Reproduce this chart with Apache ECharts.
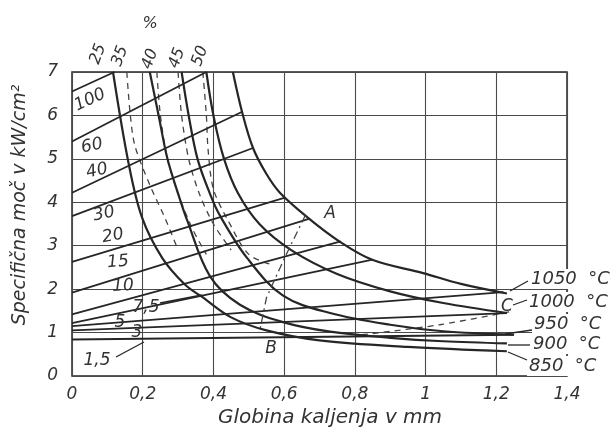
<!DOCTYPE html>
<html><head><meta charset="utf-8">
<script src="https://cdn.jsdelivr.net/npm/echarts/dist/echarts.min.js"></script>
<style>html,body{margin:0;background:#fff}#c{width:614px;height:435px}</style>
</head><body><div id="c"></div>
<script>
// axis ticks
const xTicks = [0, 0.2, 0.4, 0.6, 0.8, 1.0, 1.2, 1.4];
const yTicks = [0, 1, 2, 3, 4, 5, 6, 7];

// temperature curves (solid)
const tempLabels = ['1050 °C', '1000 °C', '950 °C', '900 °C', '850 °C'];
const t1050 = [[0.455,7],[0.481,6.08],[0.512,5.25],[0.55,4.65],[0.588,4.22],[0.665,3.66],[0.758,3.09],[0.851,2.67],[0.993,2.37],[1.1,2.12],[1.23,1.9]];
const t1000 = [[0.38,7],[0.40,6],[0.43,5],[0.47,4.2],[0.53,3.5],[0.62,2.9],[0.75,2.35],[0.9,1.95],[1.05,1.68],[1.23,1.45]];
const t950  = [[0.31,7],[0.33,6],[0.355,5],[0.39,4.2],[0.418,3.7],[0.495,2.72],[0.597,1.85],[0.73,1.45],[0.9,1.18],[1.05,1.03],[1.25,0.95]];
const t900  = [[0.22,7],[0.245,6],[0.27,5],[0.3,4.2],[0.325,3.6],[0.39,2.3],[0.475,1.64],[0.597,1.24],[0.73,1.02],[0.9,0.88],[1.05,0.8],[1.23,0.75]];
const t850  = [[0.116,7],[0.16,4.9],[0.198,3.65],[0.255,2.72],[0.32,2.1],[0.368,1.82],[0.45,1.35],[0.55,1.05],[0.7,0.82],[0.95,0.67],[1.23,0.57]];

// heating-time lines (solid)
const timeLabels = ['100','60','40','30','20','15','10','7,5','5','3','1,5'];
const s100 = [[0,6.55],[0.12,7]];
const s60  = [[0,5.4],[0.38,7]];
const s40  = [[0,4.22],[0.48,6.08]];
const s30  = [[0,3.68],[0.512,5.25]];
const s20  = [[0,2.63],[0.6,4.1]];
const s15  = [[0,1.92],[0.67,3.62]];
const s10  = [[0,1.42],[0.76,3.1]];
const s7_5 = [[0,1.22],[0.85,2.68]];
const s5   = [[0,1.15],[1.22,1.93]];
const s3   = [[0,1.05],[1.23,1.45]];
const s1_5 = [[0,0.84],[1.25,0.95]];

// percentage curves (dashed)
const pctLabels = ['25','35','40','45','50'];
const p35 = [[0.155,7],[0.165,6],[0.178,5.3],[0.22,4.4],[0.265,3.6],[0.3,2.9]];
const p40 = [[0.24,7],[0.25,6],[0.27,5],[0.3,4.2],[0.34,3.4],[0.38,2.8]];
const p45 = [[0.3,7],[0.31,6],[0.33,5],[0.36,4.2],[0.4,3.5],[0.45,2.9]];
const p50 = [[0.37,7],[0.38,6],[0.385,5.2],[0.4,4.3],[0.44,3.6],[0.5,2.8],[0.57,2.55]];
// boundary lines A-B and C
const lineAB = [[0.66,3.7],[0.6,2.7],[0.55,1.8],[0.53,1.0]];
const lineC  = [[0.82,0.95],[1.04,1.18],[1.25,1.5]];

const INK = '#262626';
const FONT = 'DejaVu Sans';
function solid(d, w){ return {type:'line', data:d, symbol:'none', smooth:0.35, lineStyle:{color:INK, width:w||2}, silent:true, z:3}; }
function straight(d){ return {type:'line', data:d, symbol:'none', lineStyle:{color:INK, width:1.8}, silent:true, z:3}; }
function dashed(d){ return {type:'line', data:d, symbol:'none', smooth:0.3, lineStyle:{color:'#444', width:1.3, type:[6,5]}, silent:true, z:2}; }

const series = [
  ...[t1050,t1000,t950,t900,t850].map(d=>solid(d,2.2)),
  ...[s100,s60,s40,s30,s20,s15,s10,s7_5,s5,s3,s1_5].map(straight),
  ...[p35,p40,p45,p50].map(dashed),
  {type:'line', data:lineAB, symbol:'none', lineStyle:{color:'#444', width:1.3, type:[8,4,2,4]}, silent:true},
  dashed(lineC)
];

function txt(x,y,s,opt){
  opt = opt||{};
  const st = {text:s, font:'italic '+(opt.size||16)+'px "'+FONT+'"', fill:'#333',
      textAlign:opt.align||'center', textVerticalAlign:'middle'};
  if (opt.bg) { st.backgroundColor = '#fff'; st.padding = [1,2]; }
  return {type:'text', x:x, y:y, rotation:(opt.rot||0)*Math.PI/180, style:st, z:10};
}
function seg(x1,y1,x2,y2){ return {type:'line', shape:{x1,y1,x2,y2}, style:{stroke:INK, lineWidth:1.3}, z:11}; }

const timePos = [[90,100,25],[92,146,12],[97,171,12],[104,214,12],[113,236,10],[118,262,5],[123,286,3],[146,308,0],[120,323,0],[137,333,0],[97,361,0]];
const pctPos = [[98,54],[120,56],[150,59],[177,58],[200,56]];
const tempPos = [[529,279],[527,302],[532,324],[531,344],[527,366]];

const graphic = [
  txt(20,205,'Specifična moč v kW/cm²',{rot:90,size:19}),
  txt(330,418,'Globina kaljenja v mm',{size:20}),
  txt(150,24,'%',{size:16}),
  ...pctLabels.map((s,i)=>txt(pctPos[i][0],pctPos[i][1],s,{rot:70,size:16})),
  ...timeLabels.map((s,i)=>txt(timePos[i][0],timePos[i][1],s,{rot:timePos[i][2],size:17})),
  ...tempLabels.map((s,i)=>txt(tempPos[i][0],tempPos[i][1],s.replace(' ','  '),{align:'left',size:18,bg:true})),
  txt(330,214,'A',{size:17}), txt(271,349,'B',{size:17}), txt(507,307,'C',{size:17}),
  seg(510,291,528,281), seg(513,305,527,300), seg(505,334,532,330), seg(508,345,530,345), seg(508,352,527,360),
  seg(116,357,144,342), seg(160,303,202,295)
];

const chart = echarts.init(document.getElementById('c'), null, {renderer:'canvas'});
chart.setOption({
  animation:false,
  backgroundColor:'#fff',
  grid:{left:72, right:47, top:72, bottom:59, show:true, borderColor:INK, borderWidth:1.5},
  xAxis:{type:'value', min:0, max:1.4, interval:0.2,
    axisLine:{show:false}, axisTick:{show:false},
    splitLine:{lineStyle:{color:'#4a4a4a', width:1.1}},
    axisLabel:{margin:10, fontFamily:FONT, fontStyle:'italic', fontSize:17, color:'#333',
      formatter:v=>String(Math.round(v*10)/10).replace('.',',')}},
  yAxis:{type:'value', min:0, max:7, interval:1,
    axisLine:{show:false}, axisTick:{show:false},
    splitLine:{lineStyle:{color:'#4a4a4a', width:1.1}},
    axisLabel:{margin:14, fontFamily:FONT, fontStyle:'italic', fontSize:17, color:'#333'}},
  series:series,
  graphic:graphic
});
</script></body></html>
